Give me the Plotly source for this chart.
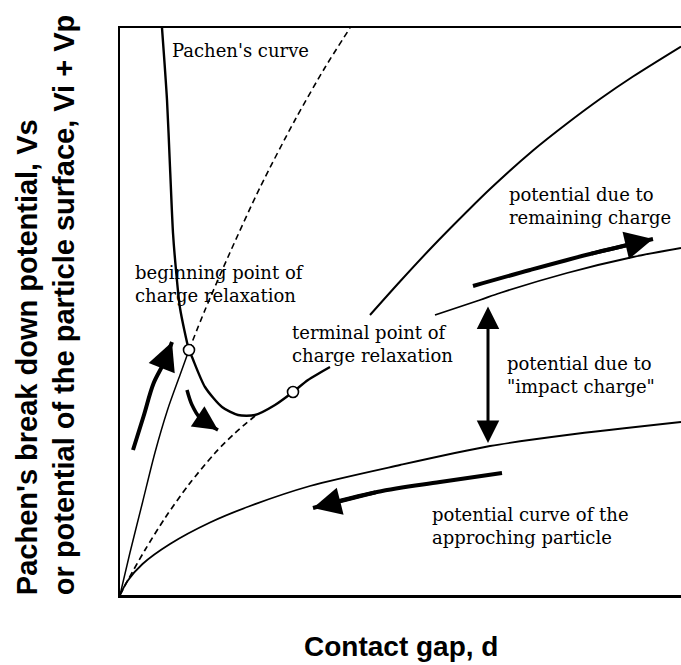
import plotly.graph_objects as go

# ---------------- data (arbitrary units: contact gap d, potential V) ----------------
# Pachen's breakdown curve, from the top down through the minimum to the terminal point
pachen_x = [0.84, 0.94, 1.00, 1.06, 1.12, 1.20, 1.38, 1.44, 1.70, 2.04, 2.36, 2.70, 3.10, 3.46, 3.76, 4.20]
pachen_y = [11.34, 9.90, 8.56, 7.24, 6.50, 5.74, 4.90, 4.76, 4.16, 3.76, 3.60, 3.60, 3.80, 4.06, 4.30, 4.56]
# Pachen's curve continued at large gaps
pachen2_x = [5.00, 5.60, 6.26, 6.94, 7.40, 8.26, 8.94, 9.60, 10.26, 11.22]
pachen2_y = [5.60, 6.27, 6.98, 7.67, 8.12, 8.89, 9.43, 9.92, 10.37, 10.97]
# potential of the particle rising up to the beginning point of charge relaxation
rise_x = [0.00, 0.20, 0.45, 0.70, 0.95, 1.20, 1.38]
rise_y = [0.00, 0.85, 1.85, 2.85, 3.70, 4.40, 4.90]
# dashed continuation above the beginning point
ext_x = [1.38, 1.70, 2.20, 2.80, 3.50, 4.10, 4.60]
ext_y = [4.90, 5.70, 6.85, 8.15, 9.50, 10.55, 11.34]
# lower dashed curve, from the origin to Pachen's minimum
relax_x = [0.00, 0.17, 0.50, 0.90, 1.37, 1.90, 2.30, 2.76]
relax_y = [0.00, 0.32, 0.90, 1.54, 2.20, 2.84, 3.24, 3.63]
# potential curve of the approaching particle
approach_x = [0.00, 0.15, 0.45, 1.00, 1.80, 2.60, 3.80, 5.60, 7.40, 8.94, 11.22]
approach_y = [0.00, 0.28, 0.62, 1.02, 1.45, 1.78, 2.18, 2.60, 2.98, 3.20, 3.46]
# potential due to remaining charge
remain_x = [6.30, 7.20, 7.60, 8.94, 10.26, 11.22]
remain_y = [5.60, 5.90, 6.04, 6.44, 6.76, 6.94]
# beginning / terminal points of charge relaxation
point_x = [1.38, 3.46]
point_y = [4.90, 4.06]

# direction arrows (paths, head at the last point)
arrow_up_x = [0.26, 0.47, 0.67, 0.87, 1.04]
arrow_up_y = [2.90, 3.57, 4.23, 4.63, 5.06]
arrow_down_x = [1.34, 1.44, 1.60, 1.96]
arrow_down_y = [4.10, 3.80, 3.54, 3.30]
arrow_right_x = [7.06, 8.20, 9.40, 10.66]
arrow_right_y = [6.18, 6.50, 6.82, 7.12]
arrow_left_x = [7.64, 6.40, 5.14, 3.86]
arrow_left_y = [2.44, 2.26, 2.06, 1.74]
impact_x = [7.36, 7.36]
impact_y = [5.80, 3.04]

# labels
label_texts = [
    "Pachen's curve",
    "beginning point of<br>charge relaxation",
    "terminal point of<br>charge relaxation",
    "potential due to<br>remaining charge",
    "potential due to<br>\"impact charge\"",
    "potential curve of the<br>approching particle",
]
label_x = [1.00, 0.26, 3.40, 7.74, 7.70, 6.20]
label_y = [10.90, 6.23, 5.03, 7.79, 4.40, 1.39]

x_title = "Contact gap, d"
y_title_lines = ["Pachen's break down potential, Vs",
                 "or potential of the particle surface, Vi + Vp"]

X_RANGE = [0, 11.22]
Y_RANGE = [0, 11.34]

# ---------------- figure ----------------
fig = go.Figure()

def curve(x, y, width=1.6, dash="solid", smoothing=0.8):
    fig.add_trace(go.Scatter(x=x, y=y, mode="lines",
                             line=dict(color="black", width=width, dash=dash,
                                       shape="spline", smoothing=smoothing),
                             hoverinfo="skip"))

curve(pachen_x, pachen_y, width=2.4, smoothing=0.7)
curve(pachen2_x, pachen2_y, width=2.0)
curve(rise_x, rise_y, width=1.5)
curve(ext_x, ext_y, width=1.6, dash="6px,4px")
curve(relax_x, relax_y, width=1.7, dash="6px,4px")
curve(approach_x, approach_y, width=1.8)
curve(remain_x, remain_y, width=1.8)

fig.add_trace(go.Scatter(x=point_x, y=point_y, mode="markers",
                         marker=dict(symbol="circle", size=11, color="white",
                                     line=dict(color="black", width=1.6)),
                         hoverinfo="skip"))

annotations = []

def arrow(xs, ys, width=3.5):
    fig.add_trace(go.Scatter(x=xs, y=ys, mode="lines",
                             line=dict(color="black", width=width, shape="spline"),
                             hoverinfo="skip"))
    annotations.append(dict(x=xs[-1], y=ys[-1], ax=xs[-2], ay=ys[-2],
                            xref="x", yref="y", axref="x", ayref="y",
                            text="", showarrow=True, arrowhead=2, arrowsize=1.4,
                            arrowwidth=width, arrowcolor="black", standoff=0))

arrow(arrow_up_x, arrow_up_y, width=4)
arrow(arrow_down_x, arrow_down_y)
arrow(arrow_right_x, arrow_right_y, width=4)
arrow(arrow_left_x, arrow_left_y, width=4)

annotations.append(dict(x=impact_x[1], y=impact_y[1], ax=impact_x[0], ay=impact_y[0],
                        xref="x", yref="y", axref="x", ayref="y",
                        text="", showarrow=True, arrowhead=2, arrowside="end+start",
                        arrowsize=1.5, arrowwidth=3, arrowcolor="black", standoff=0,
                        startstandoff=0))

for t, lx, ly in zip(label_texts, label_x, label_y):
    annotations.append(dict(x=lx, y=ly, xref="x", yref="y", text=t, showarrow=False,
                            xanchor="left", yanchor="middle", align="left",
                            font=dict(family="DejaVu Serif", size=18, color="black")))

annotations.append(dict(x=0.5, y=-0.09, xref="paper", yref="paper",
                        text="<b>" + x_title + "</b>",
                        showarrow=False, xanchor="center", yanchor="middle",
                        font=dict(family="Liberation Sans", size=28, color="black")))
for line, px in zip(y_title_lines, [-0.166, -0.100]):
    annotations.append(dict(x=px, y=-0.004, xref="paper", yref="paper",
                            text="<b>" + line + "</b>", showarrow=False, textangle=-90,
                            xanchor="center", yanchor="bottom",
                            font=dict(family="Liberation Sans", size=29, color="black")))

fig.update_layout(
    width=681, height=665,
    margin=dict(l=120, r=0, t=28, b=70),
    paper_bgcolor="white", plot_bgcolor="white",
    showlegend=False,
    annotations=annotations,
    xaxis=dict(range=X_RANGE, showgrid=False, zeroline=False, showticklabels=False,
               ticks="", showline=True, linecolor="black", linewidth=2.5, mirror=True,
               fixedrange=True),
    yaxis=dict(range=Y_RANGE, showgrid=False, zeroline=False, showticklabels=False,
               ticks="", showline=True, linecolor="black", linewidth=2.5, mirror=False,
               fixedrange=True),
)

fig.write_html("out.html",
               config={"displayModeBar": False, "staticPlot": True},
               post_script="document.body.style.margin='0';"
                           "document.body.style.overflow='hidden';")
